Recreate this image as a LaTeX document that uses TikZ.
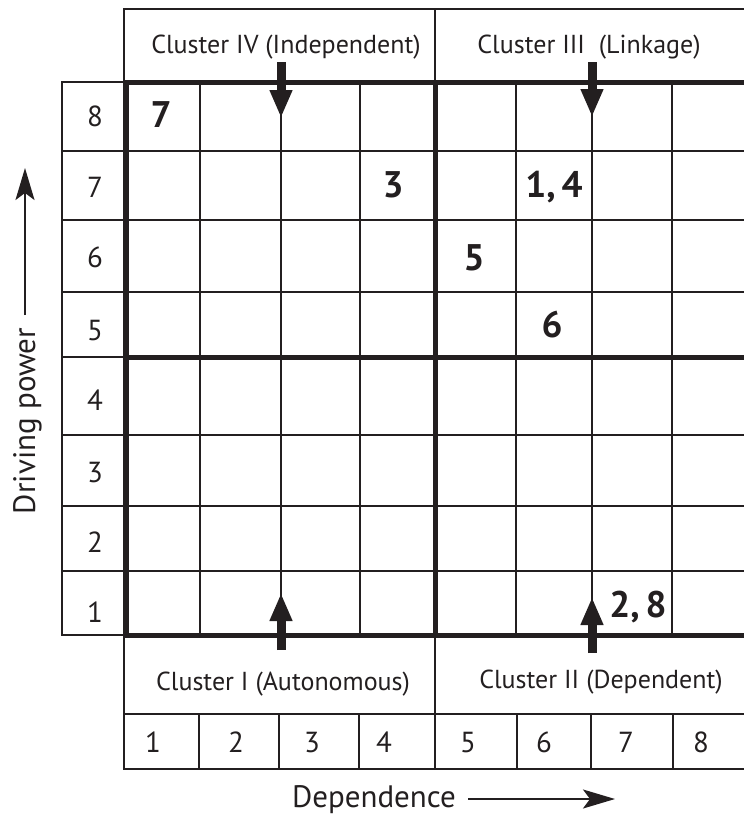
\documentclass[tikz,border=0pt]{standalone}
\usepackage{fontspec}
\setmainfont{PT Sans}
\usetikzlibrary{arrows.meta}
\definecolor{ink}{RGB}{35,31,32}
\begin{document}
\begin{tikzpicture}[x=1pt,y=-1pt,
  gridline/.style={line width=1.7pt, draw=ink},
  boldline/.style={line width=5pt, draw=ink, line join=miter},
  bigarrow/.style={line width=9pt, draw=ink, -{Triangle[width=21pt,length=28pt]}},
  axisarrow/.style={line width=1.8pt, draw=ink, -{Stealth[width=19pt,length=32pt,inset=7pt]}},
  clusterlabel/.style={anchor=base, inner sep=0pt, font=\fontsize{26}{30}\selectfont, text=ink},
  numlabel/.style={anchor=base, inner sep=0pt, font=\fontsize{29}{32}\selectfont, text=ink},
  varlabel/.style={anchor=base, inner sep=0pt, font=\fontsize{37}{40}\selectfont\bfseries, text=ink},
  axislabel/.style={anchor=base, inner sep=0pt, font=\fontsize{31}{34}\selectfont, text=ink}]
\useasboundingbox (0,0) rectangle (744,814);
\clip (0,0) rectangle (744,814);
% header box
\draw[gridline] (124,9) rectangle (760,82);
\draw[gridline] (435,9) -- (435,82);
% left column
\draw[gridline] (62,82) rectangle (124,635);
\foreach \yy in {151,220,292,357,435,506,571} \draw[gridline] (62,\yy) -- (124,\yy);
% inner grid
\foreach \yy in {151,220,292,435,506,571} \draw[gridline] (124,\yy) -- (760,\yy);
\foreach \xx in {200,281,360,516,592,672} \draw[gridline] (\xx,82) -- (\xx,635);
% bottom boxes
\draw[gridline] (124,635) rectangle (760,714);
\draw[gridline] (435,635) -- (435,714);
\draw[gridline] (124,714) rectangle (760,769);
\foreach \xx in {199,279,359,435,517,591,673} \draw[gridline] (\xx,714) -- (\xx,769);
% thick quadrant lines
\draw[boldline] (760,82) -- (126,82) -- (126,635) -- (760,635);
\draw[boldline] (124,357) -- (760,357);
\draw[boldline] (435,82) -- (435,635);
% cluster labels
\node[clusterlabel] (c4) at (286,53) {Cluster IV (Independent)};
\node[clusterlabel] (c3) at (589,53) {Cluster III\ \ (Linkage)};
\node[clusterlabel] (c1) at (283,690) {Cluster I (Autonomous)};
\node[clusterlabel] (c2) at (601,688) {Cluster II (Dependent)};
% quadrant arrows
\coordinate (a4s) at (281,62); \coordinate (a4t) at (281,118);
\coordinate (a3s) at (592,62); \coordinate (a3t) at (592,117);
\coordinate (a1s) at (281,650); \coordinate (a1t) at (281,593);
\coordinate (a2s) at (592,653); \coordinate (a2t) at (592,597);
\draw[bigarrow] (a4s) -- (a4t);
\draw[bigarrow] (a3s) -- (a3t);
\draw[bigarrow] (a1s) -- (a1t);
\draw[bigarrow] (a2s) -- (a2t);
% row numbers
\node[numlabel] (r8) at (95,126) {8};
\node[numlabel] (r7) at (95,197) {7};
\node[numlabel] (r6) at (95,267) {6};
\node[numlabel] (r5) at (95,340) {5};
\node[numlabel] (r4) at (95,410) {4};
\node[numlabel] (r3) at (95,482) {3};
\node[numlabel] (r2) at (95,552) {2};
\node[numlabel] (r1) at (95,622) {1};
% column numbers
\node[numlabel] (k1) at (153,752) {1};
\node[numlabel] (k2) at (236,752) {2};
\node[numlabel] (k3) at (312,752) {3};
\node[numlabel] (k4) at (384,752) {4};
\node[numlabel] (k5) at (468,752) {5};
\node[numlabel] (k6) at (544,752) {6};
\node[numlabel] (k7) at (626,752) {7};
\node[numlabel] (k8) at (701,752) {8};
% variables
\node[varlabel] (v7) at (161,127) {7};
\node[varlabel] (v3) at (393,197) {3};
\node[varlabel] (v14) at (554,197) {1,\,4};
\node[varlabel] (v5) at (474,270) {5};
\node[varlabel] (v6) at (552,337) {6};
\node[varlabel] (v28) at (638,617) {2,\,8};
% axes
\node[axislabel, rotate=90] (dp) at (35,421) {Driving power};
\coordinate (dpt) at (25,168);
\draw[axisarrow] (25,315) -- (dpt);
\node[axislabel] (dep) at (374,807) {Dependence};
\coordinate (dept) at (615,799);
\draw[axisarrow] (468,799) -- (dept);
\end{tikzpicture}
\end{document}
